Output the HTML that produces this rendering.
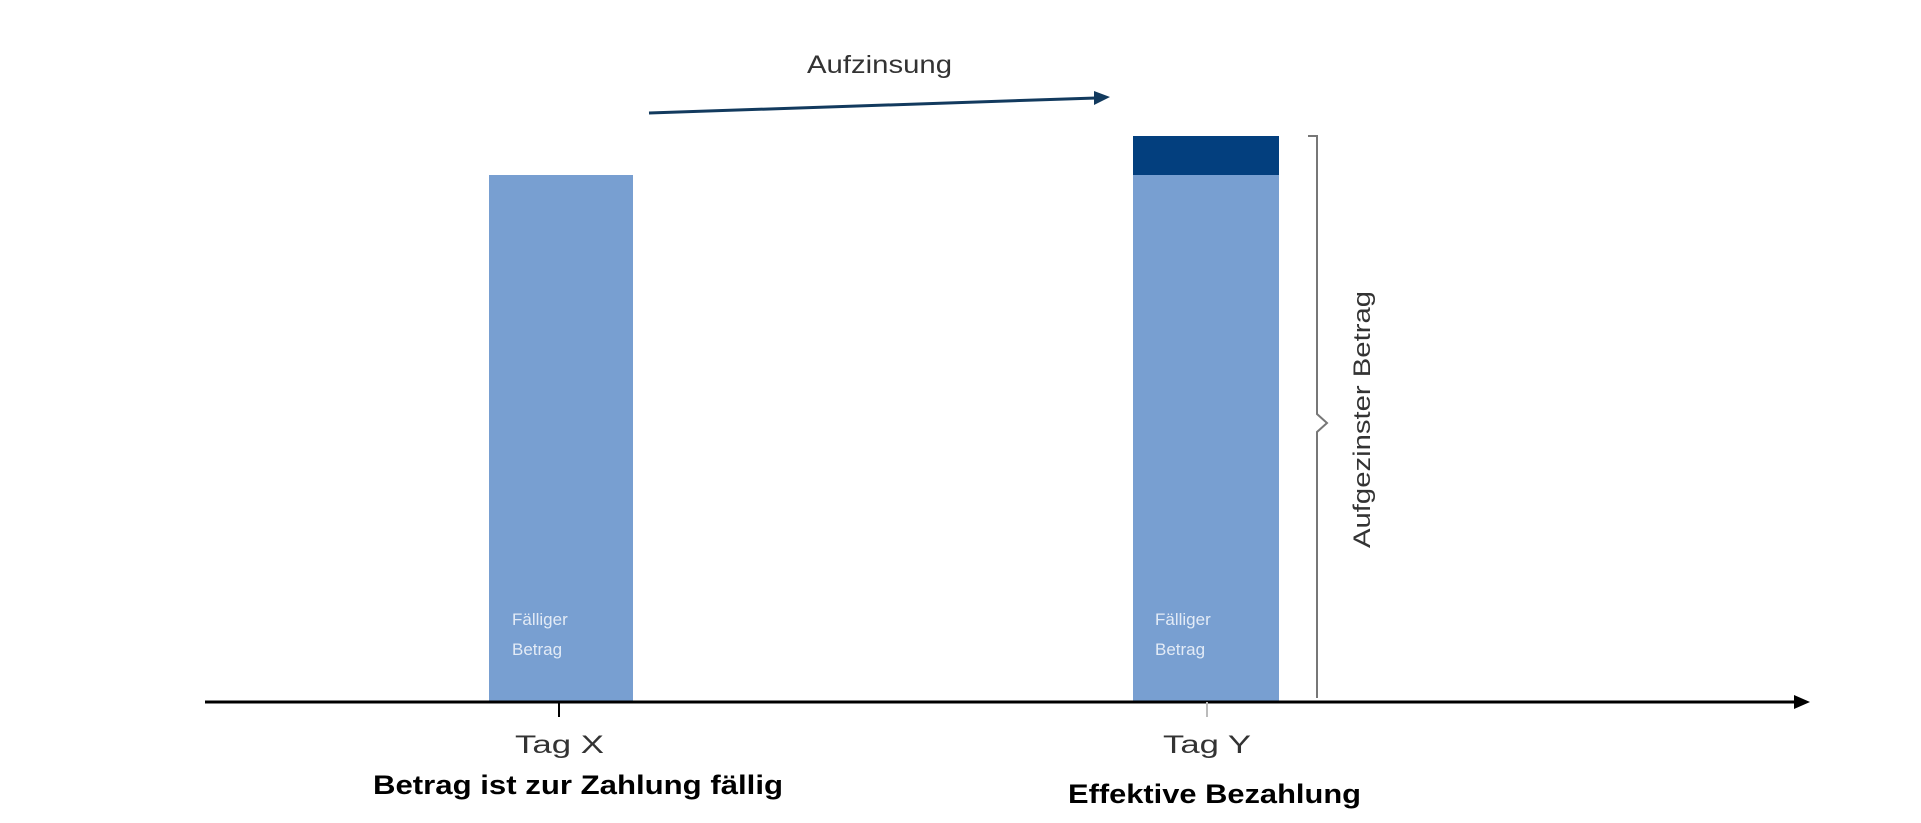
<!DOCTYPE html>
<html><head><meta charset="utf-8"><style>
body{margin:0;background:#fff;}
svg{display:block}
text{font-family:"Liberation Sans",sans-serif;}
</style></head><body>
<svg width="1921" height="823" viewBox="0 0 1921 823">
<rect x="489" y="175" width="144" height="527" fill="#789fd1"/>
<rect x="1133" y="175" width="146" height="527" fill="#789fd1"/>
<rect x="1133" y="136" width="146" height="39" fill="#033f7e"/>
<line x1="205" y1="702" x2="1796" y2="702" stroke="#000" stroke-width="3"/>
<polygon points="1810,702 1794,695 1794,709" fill="#000"/>
<line x1="559" y1="702" x2="559" y2="717" stroke="#000" stroke-width="2"/>
<line x1="1207" y1="702" x2="1207" y2="717" stroke="#bbb" stroke-width="2"/>
<line x1="649" y1="113" x2="1096" y2="98" stroke="#123a5e" stroke-width="3"/>
<polygon points="1110,97 1094,91 1094,105" fill="#123a5e"/>
<path d="M1308,136 H1317 V414 L1327,423 L1317,432 V698" fill="none" stroke="#777" stroke-width="2"/>
<text x="807" y="73" font-size="25" fill="#333" textLength="145" lengthAdjust="spacingAndGlyphs">Aufzinsung</text>
<text transform="translate(1370,548) rotate(-90)" font-size="24" fill="#333" textLength="257" lengthAdjust="spacingAndGlyphs">Aufgezinster Betrag</text>
<text x="512" y="625" font-size="17" fill="#e3ebf6">Fälliger</text>
<text x="512" y="655" font-size="17" fill="#e3ebf6">Betrag</text>
<text x="1155" y="625" font-size="17" fill="#e3ebf6">Fälliger</text>
<text x="1155" y="655" font-size="17" fill="#e3ebf6">Betrag</text>
<text x="515" y="753" font-size="25" fill="#333" textLength="89" lengthAdjust="spacingAndGlyphs">Tag X</text>
<text x="1163" y="753" font-size="25" fill="#333" textLength="88" lengthAdjust="spacingAndGlyphs">Tag Y</text>
<text x="373" y="794" font-size="27" font-weight="bold" fill="#000" textLength="410" lengthAdjust="spacingAndGlyphs">Betrag ist zur Zahlung fällig</text>
<text x="1068" y="803" font-size="27" font-weight="bold" fill="#000" textLength="293" lengthAdjust="spacingAndGlyphs">Effektive Bezahlung</text>
</svg>
</body></html>
